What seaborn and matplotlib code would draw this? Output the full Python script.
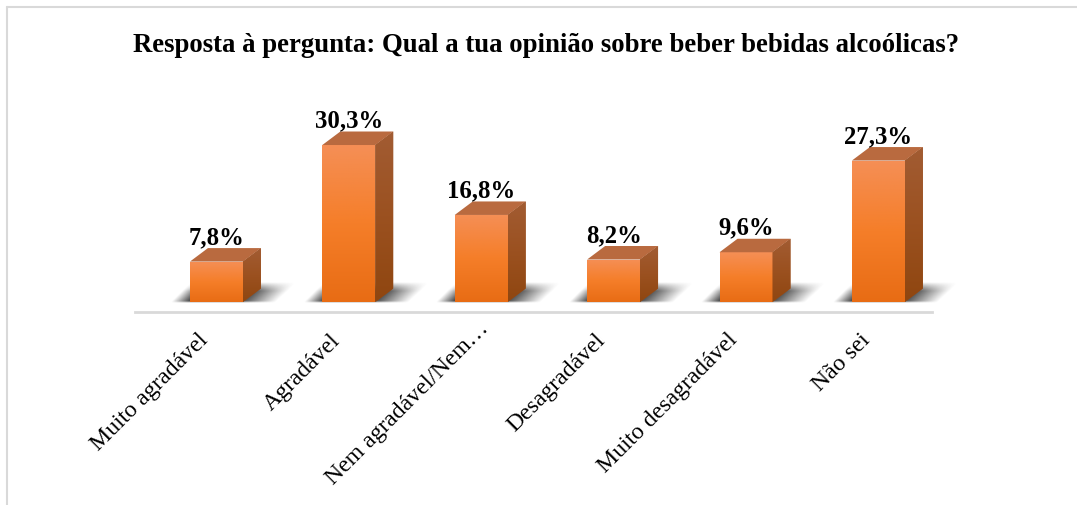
import numpy as np
import pandas as pd
import seaborn as sns
import matplotlib.pyplot as plt
from matplotlib.colors import LinearSegmentedColormap
from matplotlib.lines import Line2D
from matplotlib.patches import Polygon
from matplotlib.transforms import ScaledTranslation

categories = ["Muito agradável", "Agradável", "Nem agradável/Nem…",
              "Desagradável", "Muito desagradável", "Não sei"]
values = [7.8, 30.3, 16.8, 8.2, 9.6, 27.3]
value_labels = ["7,8%", "30,3%", "16,8%", "8,2%", "9,6%", "27,3%"]
title = "Resposta à pergunta: Qual a tua opinião sobre beber bebidas alcoólicas?"

sns.set_theme(style="white")
plt.rcParams["font.family"] = ["Liberation Serif", "DejaVu Serif"]

W, H = 1077, 505
fig = plt.figure(figsize=(W / 100, H / 100), dpi=100)
ax = fig.add_axes([135 / W, (H - 312) / H, 797 / W, 210 / H])

df = pd.DataFrame({"resposta": categories, "pct": values})
sns.barplot(data=df, x="resposta", y="pct", width=0.4, color="#F47B20",
            saturation=1, linewidth=0, ax=ax, zorder=3)

xlims = (-0.615, 5.405)
ylims = (-1.93, 38.6)
ax.set_xlim(*xlims)
ax.set_ylim(*ylims)
px_x = 797 / (xlims[1] - xlims[0])
px_y = 210 / (ylims[1] - ylims[0])

depth_x = 18 / px_x
depth_y = 13.5 / px_y

face_cmap = LinearSegmentedColormap.from_list(
    "face", ["#F58F56", "#F57E29", "#E86C14"])
top_color = "#B96A3F"
side_cmap = LinearSegmentedColormap.from_list(
    "side", ["#A25C33", "#9B5120", "#8F4610"])


def soft_shadow(x0, x1):
    # parallelogram-shaped shadow, fading to the outside
    h = 20 / px_y
    nx, ny = 300, 60
    xs = np.linspace(x0 - 0.2, x1 + 0.5, nx)
    ys = np.linspace(-1 / px_y, h, ny)
    xx, yy = np.meshgrid(xs, ys)
    t = np.clip(yy / h, 0, 1)
    left = x0 - 0.14 + t * 0.15
    right = x1 + 0.05 + t * 0.16
    a = np.clip((xx - left) / 0.13, 0, 1) * np.clip((right + 0.2 - xx) / 0.26, 0, 1)
    a = a * np.clip((1 - t) / 0.45, 0, 1) * np.clip((yy + 1 / px_y) / (2 / px_y), 0, 1)
    rgba = np.zeros((ny, nx, 4))
    rgba[..., 0:3] = 0.25
    rgba[..., 3] = a * 0.95
    im = ax.imshow(rgba, extent=[xs[0], xs[-1], ys[0], h], origin="lower",
                   aspect="auto", zorder=1, interpolation="bilinear")
    im.set_clip_on(False)


for bar, label in zip(list(ax.patches), value_labels):
    x0, x1 = bar.get_x(), bar.get_x() + bar.get_width()
    y1 = bar.get_height()
    soft_shadow(x0, x1)

    # gradient on the front face
    grad = np.linspace(1, 0, 256).reshape(-1, 1)
    im = ax.imshow(grad, extent=[x0, x1, 0, y1], cmap=face_cmap, aspect="auto",
                   origin="lower", zorder=4, vmin=0, vmax=1)
    im.set_clip_path(bar)

    # 3D top and side
    top = Polygon([(x0, y1), (x1, y1), (x1 + depth_x, y1 + depth_y),
                   (x0 + depth_x, y1 + depth_y)],
                  facecolor=top_color, edgecolor="none", zorder=4)
    ax.add_patch(top)
    side = Polygon([(x1, 0), (x1 + depth_x, depth_y),
                    (x1 + depth_x, y1 + depth_y), (x1, y1)],
                   facecolor="#9B5120", edgecolor="none", zorder=2)
    ax.add_patch(side)
    im2 = ax.imshow(grad[::-1], extent=[x1, x1 + depth_x, 0, y1 + depth_y],
                    cmap=side_cmap, aspect="auto", origin="upper", zorder=4,
                    vmin=0, vmax=1)
    im2.set_clip_path(side)

    ax.annotate(label, ((x0 + x1) / 2, y1), xytext=(0, 9),
                textcoords="offset points", ha="center", va="bottom",
                fontsize=17.8, fontweight="bold", color="black", zorder=6)

ax.set_xlim(*xlims)
ax.set_ylim(*ylims)
ax.set_xlabel("")
ax.set_ylabel("")
ax.set_yticks([])
ax.set_title("")
for s in ["top", "left", "right"]:
    ax.spines[s].set_visible(False)
ax.spines["bottom"].set_color("#D9D9D9")
ax.spines["bottom"].set_linewidth(2)
ax.tick_params(axis="x", length=0)
ax.set_xticks(range(len(categories)))
ax.set_xticklabels(categories, rotation=45, ha="right", rotation_mode="anchor",
                   fontsize=17.1, color="black")
shift = ScaledTranslation(-19 / 100, -13 / 100, fig.dpi_scale_trans)
# the truncated label sits closer to the axis in the original
shift_trunc = ScaledTranslation(-3 / 100, -1 / 100, fig.dpi_scale_trans)
for t in ax.get_xticklabels():
    s = shift_trunc if t.get_text().endswith("…") else shift
    t.set_transform(t.get_transform() + s)

fig.text(546 / W, 1 - 46 / H, title, ha="center", va="center", fontsize=19.25,
         fontweight="bold", color="black")

# chart area frame, cropped at right and bottom
fig.add_artist(Line2D([7 / W, 7 / W], [0, 1 - 7 / H], color="#D9D9D9", lw=1.5))
fig.add_artist(Line2D([7 / W, 1], [1 - 7 / H, 1 - 7 / H], color="#D9D9D9", lw=1.5))

fig.savefig("out.png", dpi=100)
